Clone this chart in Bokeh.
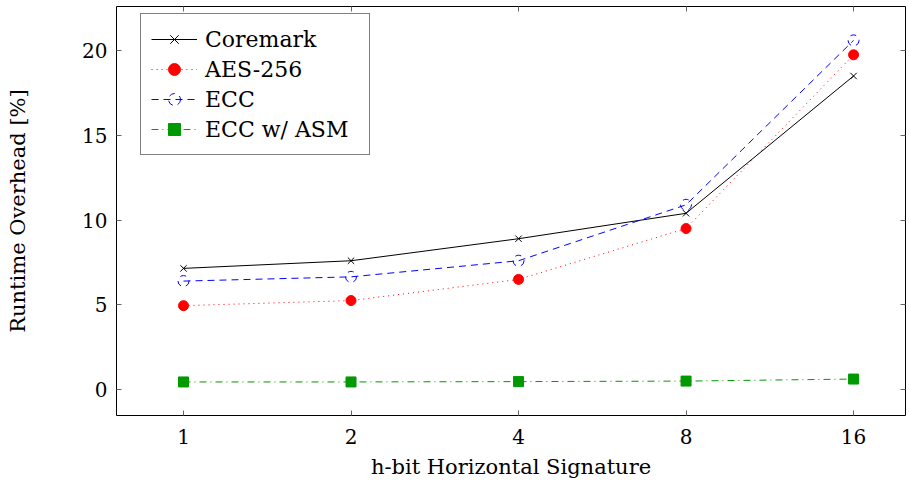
from bokeh.plotting import figure
from bokeh.models import (Range1d, FixedTicker, LinearAxis, Legend, LegendItem,
                          CustomLabelingPolicy)
from bokeh.embed import file_html
from bokeh.resources import INLINE

# ---- data ----
h_bits = ["1", "2", "4", "8", "16"]
coremark = [7.15, 7.6, 8.9, 10.4, 18.5]
aes256 = [4.95, 5.25, 6.5, 9.5, 19.75]
ecc = [6.4, 6.65, 7.6, 10.9, 20.6]
ecc_asm = [0.45, 0.45, 0.47, 0.5, 0.62]
y_ticks = [0, 5, 10, 15, 20]

xs = list(range(len(h_bits)))

FONT = "DejaVu Serif"
FS_TICK = "20px"
FS_AX = "21px"
FS_LEG = "22px"
GREEN = "#009900"
TICK = "#666666"

p = figure(width=909, height=489,
           x_range=Range1d(-0.4, 4.31), y_range=Range1d(-1.53, 22.6),
           output_backend="svg", toolbar_location=None,
           min_border_left=116, min_border_right=0, min_border_top=6,
           min_border_bottom=74)
p.xgrid.visible = False
p.ygrid.visible = False
p.outline_line_color = "black"
p.outline_line_width = 1
p.background_fill_color = "white"
p.border_fill_color = "white"

x_tick_map = {i: lab for i, lab in zip(xs, h_bits)}

# main axes
xa = p.xaxis[0]
xa.ticker = FixedTicker(ticks=xs)
xa.major_label_overrides = x_tick_map
ya = p.yaxis[0]
ya.ticker = FixedTicker(ticks=y_ticks)
for ax in (xa, ya):
    ax.axis_line_color = None
    ax.major_tick_in = 5
    ax.major_tick_out = 0
    ax.major_tick_line_color = TICK
    ax.minor_tick_line_color = None
    ax.major_label_text_font = FONT
    ax.major_label_text_font_size = FS_TICK
    ax.major_label_text_color = "black"
    ax.axis_label_text_font = FONT
    ax.axis_label_text_font_size = FS_AX
    ax.axis_label_text_font_style = "normal"
    ax.axis_label_text_color = "black"
xa.major_label_standoff = 13
ya.major_label_standoff = 9
xa.axis_label = "h-bit Horizontal Signature"
ya.axis_label = "Runtime Overhead [%]"
xa.axis_label_standoff = 8
ya.axis_label_standoff = 49

# mirrored tick axes (ticks only, labels suppressed by policy)
no_labels = "for (const i of indices) indices.unset(i)"
def tick_axis(ticks):
    return LinearAxis(ticker=FixedTicker(ticks=ticks), major_label_text_font_size="1px",
                      major_label_policy=CustomLabelingPolicy(code=no_labels),
                      major_label_standoff=0, axis_label_standoff=0,
                      axis_label_text_font_size="1px",
                      axis_line_color=None, major_tick_in=5, major_tick_out=0,
                      major_tick_line_color=TICK, minor_tick_line_color=None)
p.add_layout(tick_axis(xs), "above")
p.add_layout(tick_axis(y_ticks), "right")

# series
l1 = p.line(xs, coremark, line_color="black", line_width=1)
m1 = p.scatter(xs, coremark, marker="x", size=9, line_color="black", line_width=1)

l2 = p.line(xs, aes256, line_color="red", line_width=1, line_dash="1 4")
m2 = p.scatter(xs, aes256, marker="circle", size=10, fill_color="red", line_color="red")

l3 = p.line(xs, ecc, line_color="blue", line_width=1, line_dash="7 5")
m3 = p.scatter(xs, ecc, marker="circle", size=11, fill_color=None, line_color="blue",
               line_width=1, line_dash="6 5")

l4 = p.line(xs, ecc_asm, line_color=GREEN, line_width=1, line_dash="7 4 1 4")
m4 = p.scatter(xs, ecc_asm, marker="square", size=10, fill_color=GREEN, line_color=GREEN)

legend = Legend(items=[
    LegendItem(label="Coremark", renderers=[l1, m1]),
    LegendItem(label="AES-256", renderers=[l2, m2]),
    LegendItem(label="ECC", renderers=[l3, m3]),
    LegendItem(label="ECC w/ ASM", renderers=[l4, m4]),
], location=(24, 260))
legend.margin = 0
legend.padding = 10
legend.spacing = 0
legend.glyph_width = 46
legend.glyph_height = 30
legend.label_height = 30
legend.label_width = 154
legend.label_standoff = 8
legend.label_text_font = FONT
legend.label_text_font_size = FS_LEG
legend.label_text_color = "black"
legend.border_line_color = "black"
legend.border_line_width = 1
legend.background_fill_alpha = 1.0
p.add_layout(legend, "center")

open("out.html", "w").write(file_html(p, INLINE))
